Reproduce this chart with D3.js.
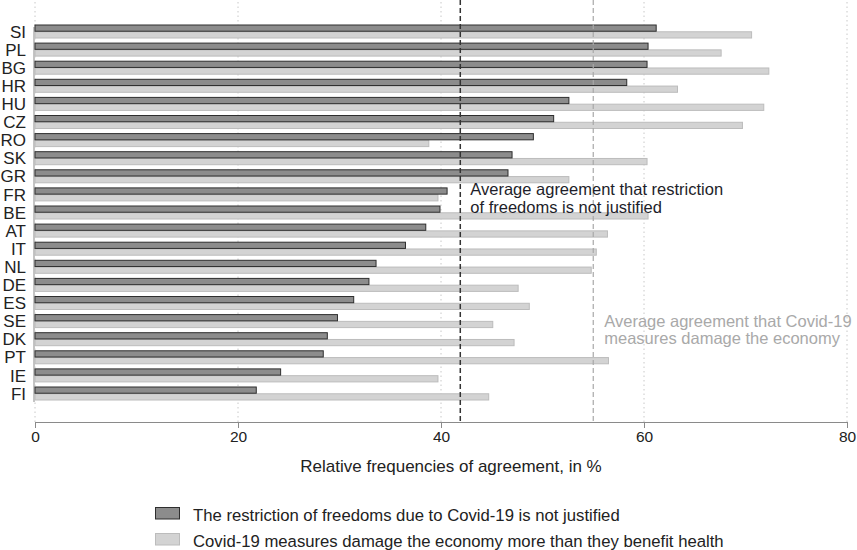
<!DOCTYPE html>
<html><head><meta charset="utf-8">
<script src="https://cdn.jsdelivr.net/npm/d3@7"></script>
<style>body{margin:0;background:#fff}svg{display:block;font-family:"Liberation Sans",Arial,sans-serif}</style>
</head><body><svg id="c" width="857" height="550"></svg>
<script>
const countries = ["SI","PL","BG","HR","HU","CZ","RO","SK","GR","FR","BE","AT","IT","NL","DE","ES","SE","DK","PT","IE","FI"];
const freedomNotJustified = [61.2,60.4,60.3,58.3,52.6,51.1,49.1,47.0,46.6,40.6,39.9,38.5,36.5,33.6,32.9,31.4,29.8,28.8,28.4,24.2,21.8];
const economyDamage = [70.6,67.6,72.3,63.3,71.8,69.7,38.8,60.3,52.6,39.7,60.4,56.4,55.3,54.8,47.6,48.7,45.1,47.2,56.5,39.7,44.7];
const xTicks = [0,20,40,60,80];
const avgFreedom = 41.9;
const avgEconomy = 55.0;
const seriesNames = ["The restriction of freedoms due to Covid-19 is not justified","Covid-19 measures damage the economy more than they benefit health"];
const annotFreedom = ["Average agreement that restriction","of freedoms is not justified"];
const annotEconomy = ["Average agreement that Covid-19","measures damage the economy"];
const xTitle = "Relative frequencies of agreement, in %";

const svg = d3.select("#c");
const x = d3.scaleLinear().domain([0,80]).range([35,847]);
const n = countries.length;
const bw = 13, stepY = 18.1;
const y = d3.scaleBand().domain(countries).range([25, 25+(n-1)*stepY+bw]).paddingInner((stepY-bw)/stepY).paddingOuter(0);
const sub = d3.scaleBand().domain([0,1]).range([0,bw]).paddingInner(0.08);
const plotTop = 2, axisY = 422;

// grid
svg.append("g").selectAll("line").data(xTicks).join("line")
  .attr("x1",d=>x(d)).attr("x2",d=>x(d)).attr("y1",plotTop).attr("y2",axisY)
  .attr("stroke","#c8c8c8").attr("stroke-dasharray","1.5,3").attr("stroke-width",1);

// baseline at 0 behind bars
svg.append("line").attr("x1",x(0)-1).attr("x2",x(0)-1).attr("y1",y(countries[0])+2).attr("y2",y(countries[n-1])+bw+2)
  .attr("stroke","#c4c4c4").attr("stroke-width",2);

const g = svg.append("g");
countries.forEach((c,i)=>{
  g.append("rect").attr("x",x(0)).attr("y",y(c)+sub(1)).attr("width",x(economyDamage[i])-x(0)).attr("height",sub.bandwidth())
    .attr("fill","#d3d3d3").attr("stroke","#bcbcbc").attr("stroke-width",1);
  g.append("rect").attr("x",x(0)).attr("y",y(c)+sub(0)).attr("width",x(freedomNotJustified[i])-x(0)).attr("height",sub.bandwidth())
    .attr("fill","#8c8c8c").attr("stroke","#2e2e2e").attr("stroke-width",1);
});

// avg lines
svg.append("line").attr("x1",x(avgFreedom)).attr("x2",x(avgFreedom)).attr("y1",0).attr("y2",axisY)
  .attr("stroke","#333").attr("stroke-width",1.5).attr("stroke-dasharray","5,3");
svg.append("line").attr("x1",x(avgEconomy)).attr("x2",x(avgEconomy)).attr("y1",0).attr("y2",axisY)
  .attr("stroke","#a8a8a8").attr("stroke-width",1.2).attr("stroke-dasharray","5,3");

// annotations
svg.append("text").attr("x",x(avgFreedom)+10).attr("y",195).attr("fill","#1e1e2a").attr("font-size",16.5)
  .selectAll("tspan").data(annotFreedom).join("tspan").attr("x",x(avgFreedom)+10).attr("dy",(d,i)=>i?17.5:0).text(d=>d);
svg.append("text").attr("x",x(avgEconomy)+11).attr("y",326.5).attr("fill","#a9a9a9").attr("font-size",16.5)
  .selectAll("tspan").data(annotEconomy).join("tspan").attr("x",x(avgEconomy)+11).attr("dy",(d,i)=>i?17.5:0).text(d=>d);

// y labels
svg.append("g").selectAll("text").data(countries).join("text")
  .attr("x",26).attr("y",d=>y(d)+bw/2).attr("dy","0.36em").attr("text-anchor","end")
  .attr("font-size",17).attr("fill","#222").text(d=>d);

// x axis
const xa = svg.append("g").attr("transform",`translate(0,${axisY})`)
  .call(d3.axisBottom(x).tickValues(xTicks).tickSize(6).tickPadding(3));
xa.select(".domain").attr("stroke","#8a8a8a");
xa.selectAll(".tick line").attr("stroke","#8a8a8a");
xa.selectAll(".tick text").attr("font-size",15.5).attr("fill","#222").attr("font-family","Liberation Sans, Arial, sans-serif");

svg.append("text").attr("x",451).attr("y",472).attr("text-anchor","middle").attr("font-size",17).attr("fill","#222").text(xTitle);

// legend
const lg = svg.append("g");
const sw = [{fill:"#8c8c8c",stroke:"#2e2e2e"},{fill:"#d3d3d3",stroke:"#bcbcbc"}];
seriesNames.forEach((s,i)=>{
  const yy = 507.5 + i*26;
  lg.append("rect").attr("x",155.5).attr("y",yy).attr("width",24).attr("height",11.5).attr("fill",sw[i].fill).attr("stroke",sw[i].stroke);
  lg.append("text").attr("x",193).attr("y",yy+13).attr("font-size",16.7).attr("fill","#222").text(s);
});
</script></body></html>
